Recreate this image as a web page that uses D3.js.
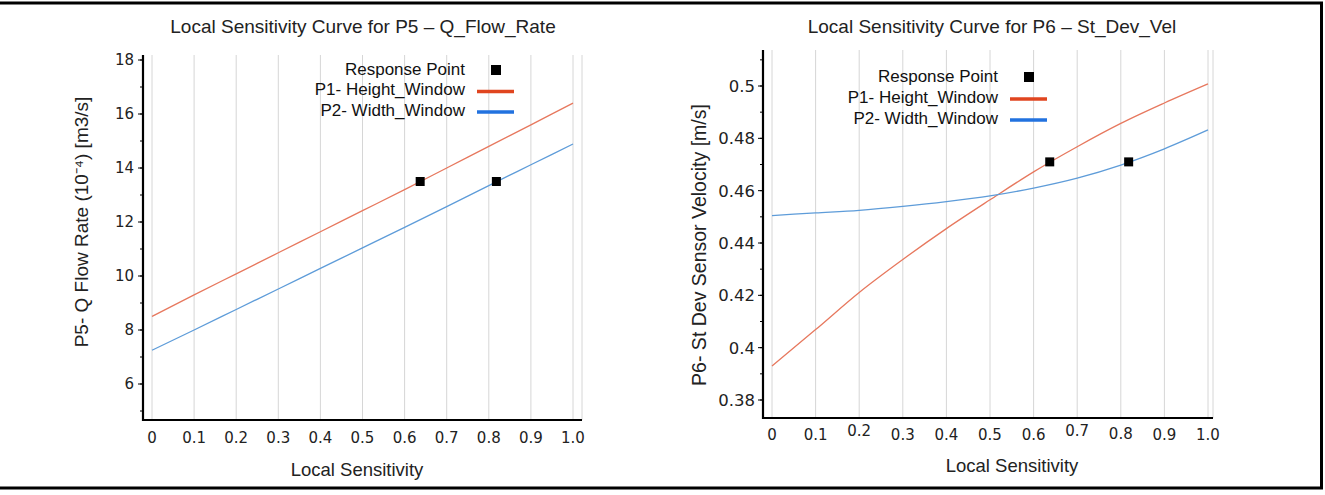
<!DOCTYPE html>
<html><head><meta charset="utf-8">
<script src="https://cdn.jsdelivr.net/npm/d3@7/dist/d3.min.js"></script>
<style>
html,body{margin:0;padding:0;background:#fff;}
svg{display:block;}
</style></head>
<body>
<svg id="c" width="1325" height="495"></svg>
<script>
// ---- data ----
const xTicks = [0, 0.1, 0.2, 0.3, 0.4, 0.5, 0.6, 0.7, 0.8, 0.9, 1.0];
const xTickLabels = ["0", "0.1", "0.2", "0.3", "0.4", "0.5", "0.6", "0.7", "0.8", "0.9", "1.0"];
const seriesNames = ["P1- Height_Window", "P2- Width_Window"];
const responseLabel = "Response Point";

const p5Title = "Local Sensitivity Curve for P5 \u2013 Q_Flow_Rate";
const p5YLabel = "P5- Q Flow Rate (10\u207B\u2074) [m3/s]";
const p5YTicks = [6, 8, 10, 12, 14, 16, 18];
const p5Height = [8.5, 9.3, 10.08, 10.86, 11.64, 12.42, 13.2, 14.0, 14.8, 15.6, 16.4];
const p5Width = [7.25, 8.0, 8.76, 9.52, 10.28, 11.04, 11.8, 12.57, 13.35, 14.12, 14.89];
const p5Response = [[0.637, 13.5], [0.818, 13.5]];

const p6Title = "Local Sensitivity Curve for P6 \u2013 St_Dev_Vel";
const p6YLabel = "P6- St Dev Sensor Velocity [m/s]";
const p6YTicks = [0.38, 0.4, 0.42, 0.44, 0.46, 0.48, 0.5];
const p6YTickLabels = ["0.38", "0.4", "0.42", "0.44", "0.46", "0.48", "0.5"];
const p6Height = [0.393, 0.4069, 0.4211, 0.4337, 0.4455, 0.4565, 0.4672, 0.4768, 0.4857, 0.4935, 0.5008];
const p6Width = [0.4505, 0.4515, 0.4525, 0.454, 0.4558, 0.458, 0.461, 0.4648, 0.4698, 0.476, 0.4832];
const p6Response = [[0.637, 0.471], [0.818, 0.471]];
const xAxisTitle = "Local Sensitivity";

const svg = d3.select("#c");
const SANS = "'Liberation Sans', Arial, sans-serif";
const TICKF = "'DejaVu Sans', Verdana, sans-serif";
const RED_LINE = "#e7785e", BLUE_LINE = "#5e9cd9";
const RED_LEG = "#e0451f", BLUE_LEG = "#2272df";

function panel(o) {
  const g = svg.append("g");
  const x = d3.scaleLinear().domain([0, 1]).range([o.x0, o.x1]);
  const y = d3.scaleLinear().domain([o.yTicks[0], o.yTicks[o.yTicks.length - 1]]).range([o.yb, o.yt]);

  // gridlines
  g.selectAll(".grid").data(xTicks).join("line")
    .attr("x1", d => x(d)).attr("x2", d => x(d))
    .attr("y1", o.axTop).attr("y2", o.axBottom)
    .attr("stroke", "#d6d6d6").attr("stroke-width", 1);
  g.append("line").attr("x1", o.axRight).attr("x2", o.axRight)
    .attr("y1", o.axTop).attr("y2", o.axBottom)
    .attr("stroke", "#d6d6d6").attr("stroke-width", 1);

  // lines
  const line = d3.line().x((d, i) => x(xTicks[i])).y(d => y(d)).curve(d3.curveMonotoneX);
  g.append("path").attr("d", line(o.h)).attr("fill", "none").attr("stroke", RED_LINE).attr("stroke-width", 1.3);
  g.append("path").attr("d", line(o.w)).attr("fill", "none").attr("stroke", BLUE_LINE).attr("stroke-width", 1.3);

  // response points
  g.selectAll(".rp").data(o.resp).join("rect")
    .attr("x", d => x(d[0]) - 4.5).attr("y", d => y(d[1]) - 4.5)
    .attr("width", 9).attr("height", 9).attr("fill", "#000");

  // y axis minor ticks
  const minor = d3.range(o.minorStart, o.minorEnd + o.minorStep / 2, o.minorStep);
  g.selectAll(".mt").data(minor).join("line")
    .attr("x1", o.axLeft - 3).attr("x2", o.axLeft)
    .attr("y1", d => y(d)).attr("y2", d => y(d))
    .attr("stroke", "#000").attr("stroke-width", 1);
  g.selectAll(".Mt").data(o.yTicks).join("line")
    .attr("x1", o.axLeft - 5).attr("x2", o.axLeft)
    .attr("y1", d => y(d)).attr("y2", d => y(d))
    .attr("stroke", "#000").attr("stroke-width", 1);

  // axes lines
  g.append("line").attr("x1", o.axLeft).attr("x2", o.axLeft).attr("y1", o.axTop).attr("y2", o.axBottom + 1)
    .attr("stroke", "#000").attr("stroke-width", 2.2);
  g.append("line").attr("x1", o.axLeft - 1).attr("x2", o.axRight).attr("y1", o.axBottom).attr("y2", o.axBottom)
    .attr("stroke", "#000").attr("stroke-width", 2.2);

  // y tick labels
  g.selectAll(".yl").data(o.yTicks).join("text")
    .attr("x", o.axLeft - o.ylOff).attr("y", d => y(d)).attr("dy", "0.36em")
    .attr("text-anchor", "end").attr("font-family", TICKF).attr("font-size", o.yFont).attr("fill", "#222")
    .text((d, i) => o.yTickLabels ? o.yTickLabels[i] : d);

  // x tick labels
  g.selectAll(".xl").data(xTicks).join("text")
    .attr("x", d => x(d)).attr("y", (d, i) => o.xlY - (o.jitter ? o.jitter[i] : 0))
    .attr("text-anchor", "middle").attr("font-family", TICKF).attr("font-size", 15).attr("fill", "#222")
    .text((d, i) => xTickLabels[i]);

  // titles
  g.append("text").attr("x", o.titleX).attr("y", o.titleY).attr("text-anchor", "middle")
    .attr("font-family", SANS).attr("font-size", 19).attr("fill", "#222").text(o.title);
  g.append("text").attr("x", o.xtX).attr("y", o.xtY).attr("text-anchor", "middle")
    .attr("font-family", SANS).attr("font-size", 18.5).attr("fill", "#222").text(xAxisTitle);
  g.append("text").attr("transform", `translate(${o.ytX},${o.ytY}) rotate(-90)`).attr("text-anchor", "middle")
    .attr("font-family", SANS).attr("font-size", o.ytFont).attr("fill", "#222").text(o.yLabel);

  // legend
  const lg = g.append("g");
  const labels = [responseLabel, seriesNames[0], seriesNames[1]];
  labels.forEach((t, i) => {
    lg.append("text").attr("x", o.legX).attr("y", o.legY + i * o.legDy).attr("dy", "0.35em")
      .attr("text-anchor", "end").attr("font-family", SANS).attr("font-size", 17).attr("fill", "#111").text(t);
  });
  lg.append("rect").attr("x", o.legMx - 5).attr("y", o.legY - 4).attr("width", 10).attr("height", 10).attr("fill", "#000");
  lg.append("line").attr("x1", o.legL0).attr("x2", o.legL1).attr("y1", o.legY + o.legDy + 2).attr("y2", o.legY + o.legDy + 2)
    .attr("stroke", RED_LEG).attr("stroke-width", 3.5);
  lg.append("line").attr("x1", o.legL0).attr("x2", o.legL1).attr("y1", o.legY + 2 * o.legDy + 2).attr("y2", o.legY + 2 * o.legDy + 2)
    .attr("stroke", BLUE_LEG).attr("stroke-width", 3.5);
}

panel({
  x0: 152, x1: 573, yb: 384, yt: 60, yTicks: p5YTicks,
  axLeft: 143, axRight: 582, axTop: 55, axBottom: 420,
  minorStart: 5, minorEnd: 18, minorStep: 1,
  h: p5Height, w: p5Width, resp: p5Response,
  ylOff: 9, yFont: 15, xlY: 443,
  title: p5Title, titleX: 363, titleY: 33,
  xtX: 357, xtY: 476, ytX: 88, ytY: 222, ytFont: 19, yLabel: p5YLabel,
  legX: 465, legY: 69, legDy: 20.5, legMx: 496, legL0: 477, legL1: 514
});

panel({
  x0: 772, x1: 1208, yb: 400, yt: 86, yTicks: p6YTicks, yTickLabels: p6YTickLabels,
  axLeft: 763, axRight: 1213, axTop: 50, axBottom: 418,
  minorStart: 0.38, minorEnd: 0.51, minorStep: 0.01,
  h: p6Height, w: p6Width, resp: p6Response,
  ylOff: 8, yFont: 16.5, xlY: 440, jitter: [0, 0, 4, 0, 0, 0, 0, 4, 1, 0, 0],
  title: p6Title, titleX: 992, titleY: 33,
  xtX: 1012, xtY: 472, ytX: 706, ytY: 245, ytFont: 19.5, yLabel: p6YLabel,
  legX: 998, legY: 76, legDy: 21, legMx: 1029, legL0: 1010, legL1: 1047
});

// outer frame
svg.append("path").attr("d", "M-2,3 H1321.5 V488 H-2")
  .attr("fill", "none").attr("stroke", "#000").attr("stroke-width", 3);
</script>
</body></html>
